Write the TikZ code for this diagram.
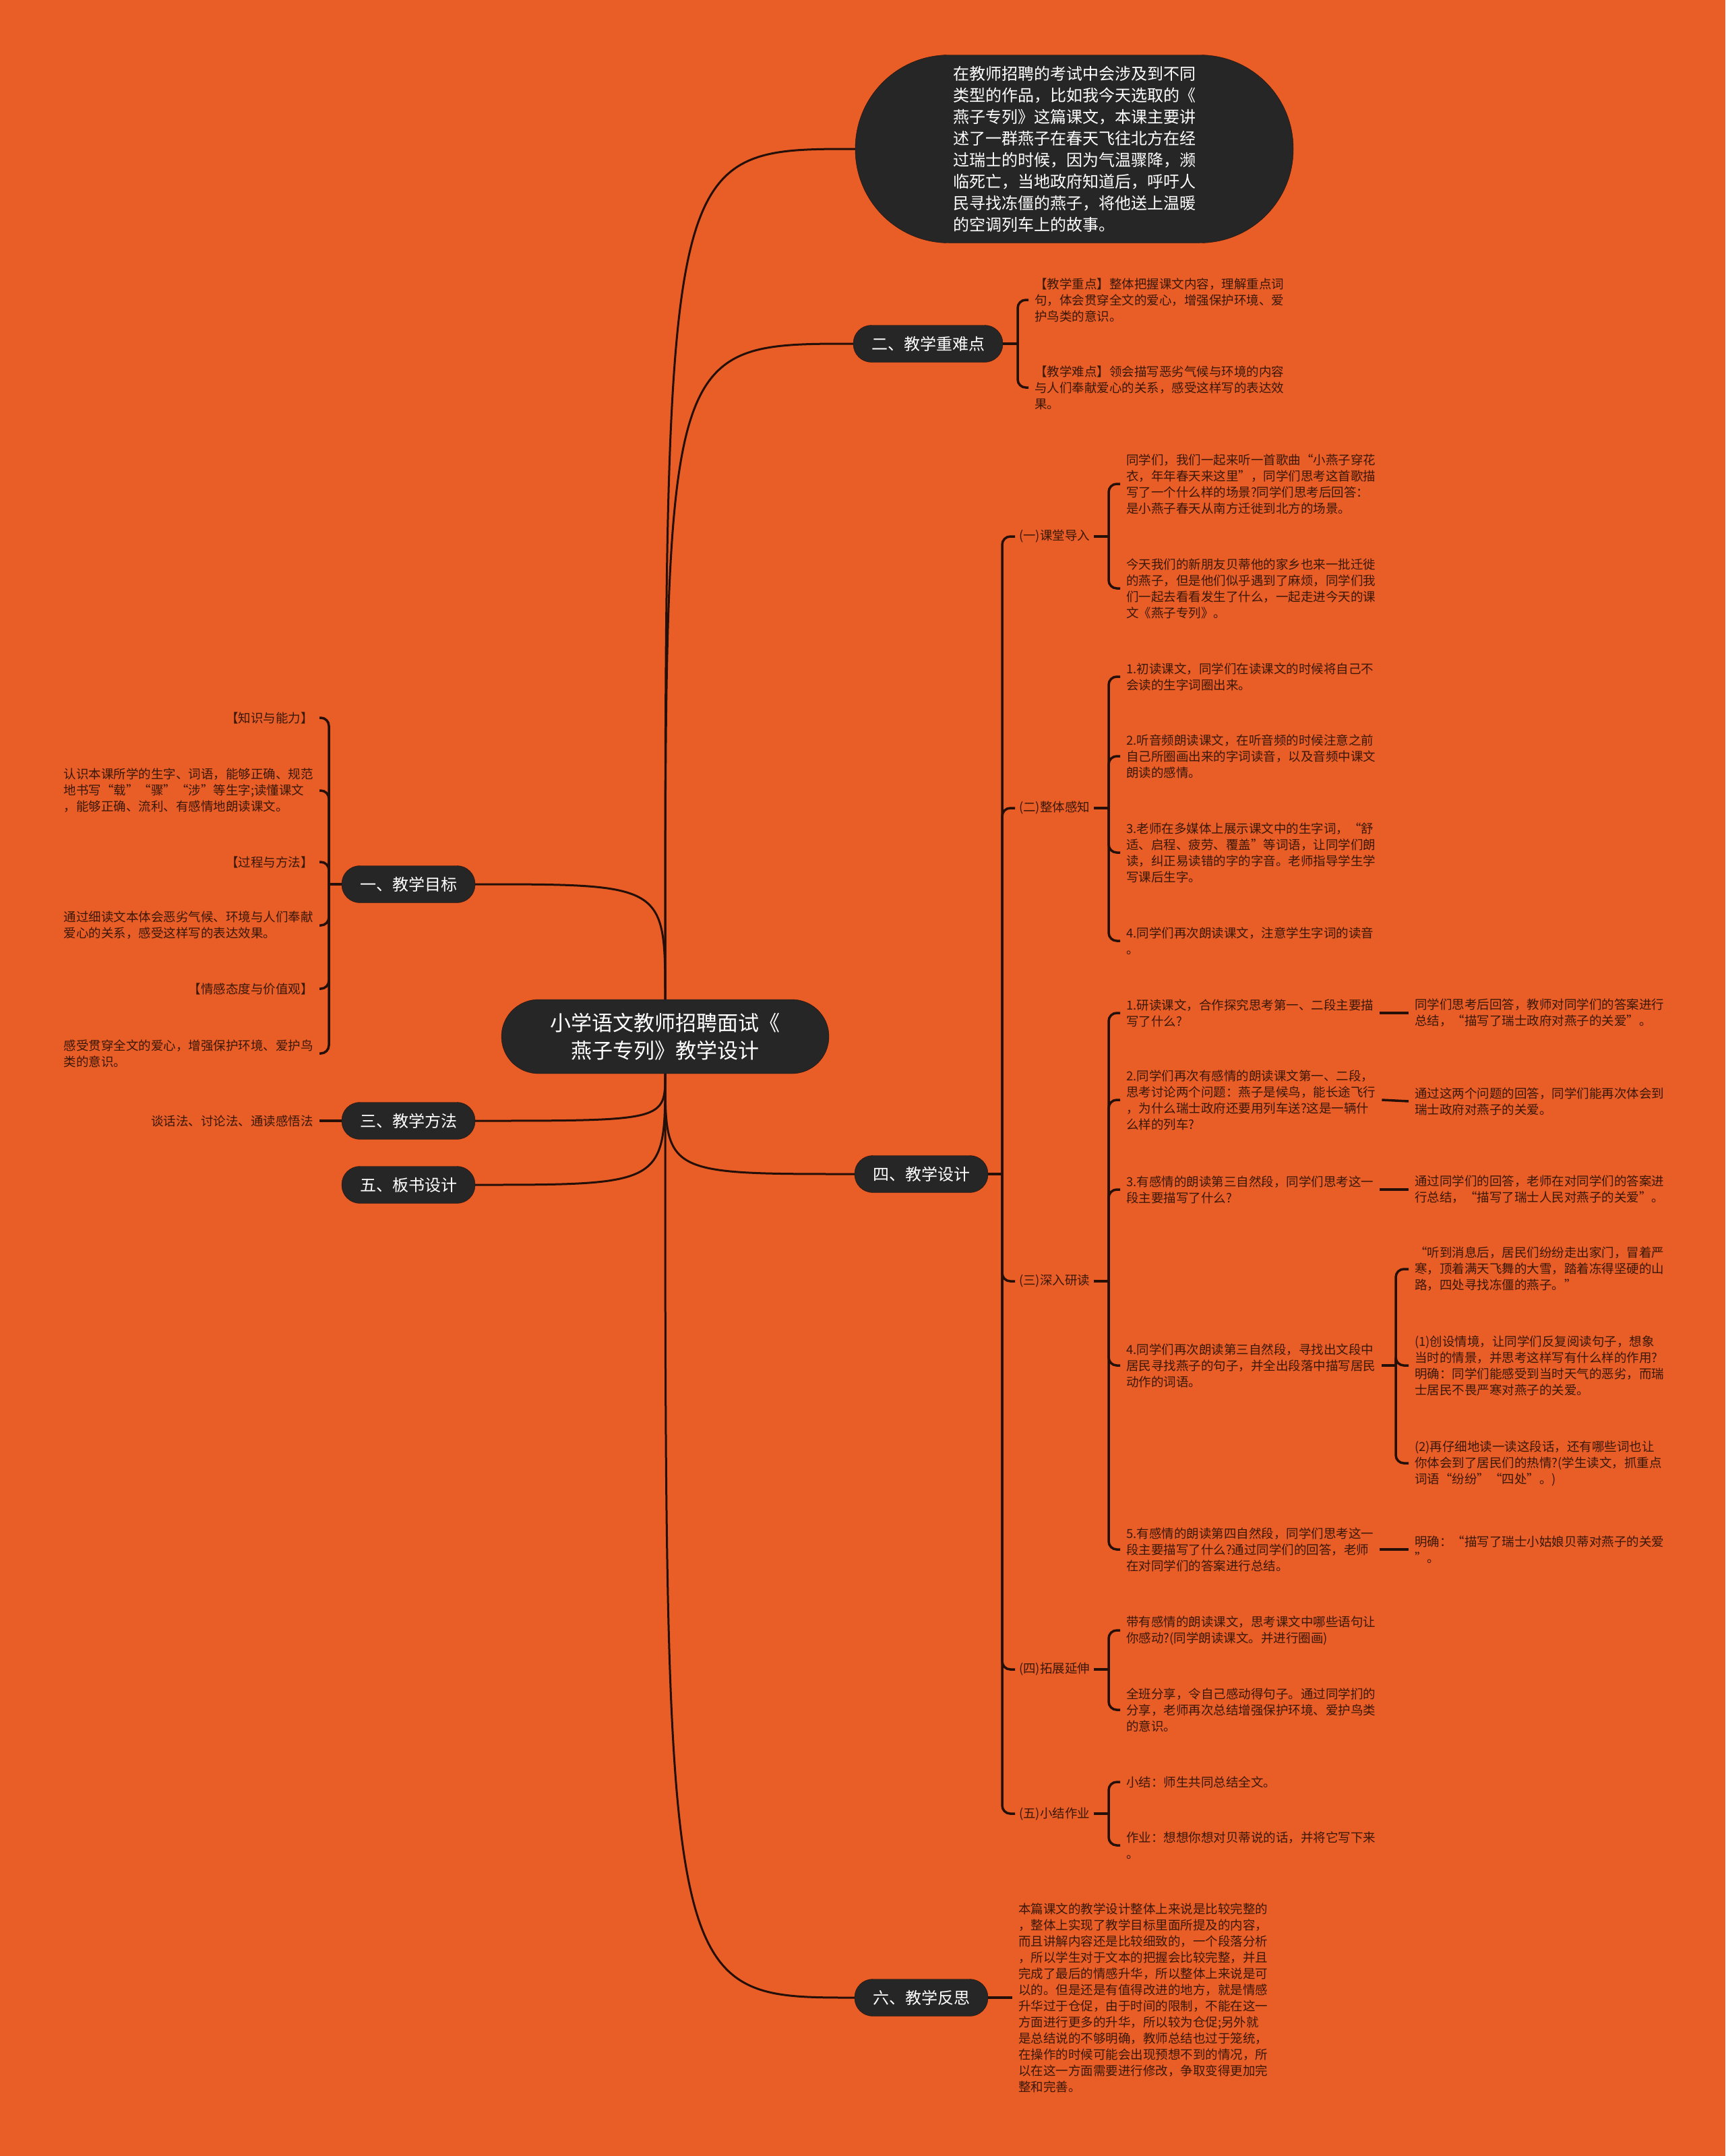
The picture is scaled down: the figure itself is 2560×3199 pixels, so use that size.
\documentclass[tikz,border=0pt]{standalone}
\usepackage{fontspec}
\setmainfont{Noto Sans CJK SC}
\definecolor{bgorange}{RGB}{233,93,39}
\definecolor{nodedark}{RGB}{38,38,38}
\definecolor{linedark}{RGB}{36,16,8}
\definecolor{leaftext}{RGB}{58,24,8}
\tikzset{mainbox/.style={
    rectangle,
    fill=nodedark,
    draw=linedark,
    text=white,
    rounded corners=27pt,
    minimum height=55pt,
    inner xsep=27pt,
    font=\fontsize{24}{29}\selectfont
  },
  rootbox/.style={mainbox,rounded corners=55pt,minimum width=486pt,minimum height=110pt,align=center,font=\fontsize{31}{41}\selectfont},
  sumbox/.style={mainbox,rounded corners=139pt,minimum width=650pt,minimum height=279pt,align=left,font=\fontsize{24}{32}\selectfont},
  leaf/.style={align=left,text=leaftext,inner xsep=9pt,inner ysep=2pt,font=\fontsize{18.5}{24}\selectfont},
  leafw/.style={leaf,anchor=west},
  leafe/.style={leaf,anchor=east},
  sublabel/.style={leafw,inner xsep=6pt},
  link/.style={draw=linedark,line width=3pt},
  brace/.style={draw=linedark,line width=3.5pt,rounded corners=12pt},
}
\begin{document}
\begin{tikzpicture}[x=1pt,y=-1pt]
  \fill[bgorange] (0,0) rectangle (2560,3199);
  \useasboundingbox (0,0) rectangle (2560,3199);

  \node[rootbox] (root) at (987,1538) {小学语文教师招聘面试《\\燕子专列》教学设计};
  \node[sumbox] (intro) at (1594,221) {在教师招聘的考试中会涉及到不同\\类型的作品，比如我今天选取的《\\燕子专列》这篇课文，本课主要讲\\述了一群燕子在春天飞往北方在经\\过瑞士的时候，因为气温骤降，濒\\临死亡，当地政府知道后，呼吁人\\民寻找冻僵的燕子，将他送上温暖\\的空调列车上的故事。};
  \node[mainbox] (zhongnan) at (1377,510) {二、教学重难点};
  \node[mainbox] (sheji) at (1367,1742) {四、教学设计};
  \node[mainbox] (fansi) at (1367,2964) {六、教学反思};
  \node[mainbox] (mubiao) at (606,1312) {一、教学目标};
  \node[mainbox] (fangfa) at (606,1663) {三、教学方法};
  \node[mainbox] (banshu) at (606,1758) {五、板书设计};

  \foreach \t in {intro,zhongnan}
    \draw[link] (root.north) .. controls (root.north |- \t.west) .. (\t.west);
  \draw[link] (root.north) .. controls (root.north |- mubiao.east) .. (mubiao.east);
  \foreach \t in {sheji,fansi}
    \draw[link] (root.south) .. controls (root.south |- \t.west) .. (\t.west);
  \foreach \t in {fangfa,banshu}
    \draw[link] (root.south) .. controls (root.south |- \t.east) .. (\t.east);

  % 二
  \node[leafw] (zhongdian) at (1526,445) {【教学重点】整体把握课文内容，理解重点词\\句，体会贯穿全文的爱心，增强保护环境、爱\\护鸟类的意识。};
  \node[leafw] (nandian) at (1526,575) {【教学难点】领会描写恶劣气候与环境的内容\\与人们奉献爱心的关系，感受这样写的表达效\\果。};
  \coordinate (zhongnanj) at (1510,510);
  \draw[brace] (zhongnan.east) -- (zhongnanj);
  \foreach \c in {zhongdian,nandian}
    \draw[brace] (zhongnanj) |- (\c.west);

  % 四
  \node[sublabel] (daoru) at (1506,796) {(一)课堂导入};
  \node[sublabel] (ganzhi) at (1506,1199) {(二)整体感知};
  \node[sublabel] (yandu) at (1506,1901) {(三)深入研读};
  \node[sublabel] (tuozhan) at (1506,2477) {(四)拓展延伸};
  \node[sublabel] (zuoye) at (1506,2691) {(五)小结作业};
  \coordinate (shejij) at (1487,1742);
  \coordinate (subcol) at (1645,0);
  \draw[brace] (sheji.east) -- (shejij);
  \foreach \c in {daoru,ganzhi,yandu,tuozhan,zuoye}
    \draw[brace] (shejij) |- (\c.west);

  \node[leafw] (daoru1) at (1662,718) {同学们，我们一起来听一首歌曲“小燕子穿花\\衣，年年春天来这里”，同学们思考这首歌描\\写了一个什么样的场景?同学们思考后回答：\\是小燕子春天从南方迁徙到北方的场景。};
  \node[leafw] (daoru2) at (1662,873) {今天我们的新朋友贝蒂他的家乡也来一批迁徙\\的燕子，但是他们似乎遇到了麻烦，同学们我\\们一起去看看发生了什么，一起走进今天的课\\文《燕子专列》。};

  \node[leafw] (ganzhi1) at (1662,1004) {1.初读课文，同学们在读课文的时候将自己不\\会读的生字词圈出来。};
  \node[leafw] (ganzhi2) at (1662,1122) {2.听音频朗读课文，在听音频的时候注意之前\\自己所圈画出来的字词读音，以及音频中课文\\朗读的感情。};
  \node[leafw] (ganzhi3) at (1662,1265) {3.老师在多媒体上展示课文中的生字词，“舒\\适、启程、疲劳、覆盖”等词语，让同学们朗\\读，纠正易读错的字的字音。老师指导学生学\\写课后生字。};
  \node[leafw] (ganzhi4) at (1662,1396) {4.同学们再次朗读课文，注意学生字词的读音\\。};

  \node[leafw] (yandu1) at (1662,1503) {1.研读课文，合作探究思考第一、二段主要描\\写了什么?};
  \node[leafw] (yandu2) at (1662,1632) {2.同学们再次有感情的朗读课文第一、二段，\\思考讨论两个问题：燕子是候鸟，能长途飞行\\，为什么瑞士政府还要用列车送?这是一辆什\\么样的列车?};
  \node[leafw] (yandu3) at (1662,1765) {3.有感情的朗读第三自然段，同学们思考这一\\段主要描写了什么?};
  \node[leafw] (yandu4) at (1662,2026) {4.同学们再次朗读第三自然段，寻找出文段中\\居民寻找燕子的句子，并全出段落中描写居民\\动作的词语。};
  \node[leafw] (yandu5) at (1662,2299) {5.有感情的朗读第四自然段，同学们思考这一\\段主要描写了什么?通过同学们的回答，老师\\在对同学们的答案进行总结。};

  \node[leafw] (tuozhan1) at (1662,2419) {带有感情的朗读课文，思考课文中哪些语句让\\你感动?(同学朗读课文。并进行圈画)};
  \node[leafw] (tuozhan2) at (1662,2537) {全班分享，令自己感动得句子。通过同学扪的\\分享，老师再次总结增强保护环境、爱护鸟类\\的意识。};

  \node[leafw] (zuoye1) at (1662,2644) {小结：师生共同总结全文。};
  \node[leafw] (zuoye2) at (1662,2738) {作业：想想你想对贝蒂说的话，并将它写下来\\。};

  \foreach \p/\kids in {daoru/{daoru1,daoru2},ganzhi/{ganzhi1,ganzhi2,ganzhi3,ganzhi4},yandu/{yandu1,yandu2,yandu3,yandu4,yandu5},tuozhan/{tuozhan1,tuozhan2},zuoye/{zuoye1,zuoye2}}{
    \draw[brace] (\p.east) -- (\p.east -| subcol);
    \foreach \c in \kids
      \draw[brace] (\p.east -| subcol) |- (\c.west);
  }

  \node[leafw] (yandu1r) at (2090,1503) {同学们思考后回答，教师对同学们的答案进行\\总结，“描写了瑞士政府对燕子的关爱”。};
  \node[leafw] (yandu2r) at (2090,1634) {通过这两个问题的回答，同学们能再次体会到\\瑞士政府对燕子的关爱。};
  \node[leafw] (yandu3r) at (2090,1765) {通过同学们的回答，老师在对同学们的答案进\\行总结，“描写了瑞士人民对燕子的关爱”。};
  \node[leafw] (yandu5r) at (2090,2299) {明确：“描写了瑞士小姑娘贝蒂对燕子的关爱\\”。};
  \foreach \c in {1,2,3,5}
    \draw[brace] (yandu\c.east) -- (yandu\c r.west);

  \node[leafw] (yandu4a) at (2090,1883) {“听到消息后，居民们纷纷走出家门，冒着严\\寒，顶着满天飞舞的大雪，踏着冻得坚硬的山\\路，四处寻找冻僵的燕子。”};
  \node[leafw] (yandu4b) at (2090,2026) {(1)创设情境，让同学们反复阅读句子，想象\\当时的情景，并思考这样写有什么样的作用?\\明确：同学们能感受到当时天气的恶劣，而瑞\\士居民不畏严寒对燕子的关爱。};
  \node[leafw] (yandu4c) at (2090,2171) {(2)再仔细地读一读这段话，还有哪些词也让\\你体会到了居民们的热情?(学生读文，抓重点\\词语“纷纷”“四处”。)};
  \coordinate (yandu4j) at (2071,2026);
  \draw[brace] (yandu4.east) -- (yandu4j);
  \foreach \c in {yandu4a,yandu4b,yandu4c}
    \draw[brace] (yandu4j) |- (\c.west);

  % 六
  \node[leafw] (fansi1) at (1502,2964) {本篇课文的教学设计整体上来说是比较完整的\\，整体上实现了教学目标里面所提及的内容，\\而且讲解内容还是比较细致的，一个段落分析\\，所以学生对于文本的把握会比较完整，并且\\完成了最后的情感升华，所以整体上来说是可\\以的。但是还是有值得改进的地方，就是情感\\升华过于仓促，由于时间的限制，不能在这一\\方面进行更多的升华，所以较为仓促;另外就\\是总结说的不够明确，教师总结也过于笼统，\\在操作的时候可能会出现预想不到的情况，所\\以在这一方面需要进行修改，争取变得更加完\\整和完善。};
  \draw[brace] (fansi.east) -- (fansi1.west);

  % 一
  \node[leafe] (zhishi) at (474,1065) {【知识与能力】};
  \node[leafe] (zhishi1) at (474,1173) {认识本课所学的生字、词语，能够正确、规范\\地书写“载”“骤”“涉”等生字;读懂课文\\，能够正确、流利、有感情地朗读课文。};
  \node[leafe] (guocheng) at (474,1279) {【过程与方法】};
  \node[leafe] (guocheng1) at (474,1373) {通过细读文本体会恶劣气候、环境与人们奉献\\爱心的关系，感受这样写的表达效果。};
  \node[leafe] (qinggan) at (474,1467) {【情感态度与价值观】};
  \node[leafe] (qinggan1) at (474,1563) {感受贯穿全文的爱心，增强保护环境、爱护鸟\\类的意识。};
  \coordinate (mubiaoj) at (488,1312);
  \draw[brace] (mubiao.west) -- (mubiaoj);
  \foreach \c in {zhishi,zhishi1,guocheng,guocheng1,qinggan,qinggan1}
    \draw[brace] (mubiaoj) |- (\c.east);

  % 三
  \node[leafe] (fangfa1) at (474,1663) {谈话法、讨论法、通读感悟法};
  \draw[brace] (fangfa.west) -- (fangfa1.east);
\end{tikzpicture}
\end{document}
